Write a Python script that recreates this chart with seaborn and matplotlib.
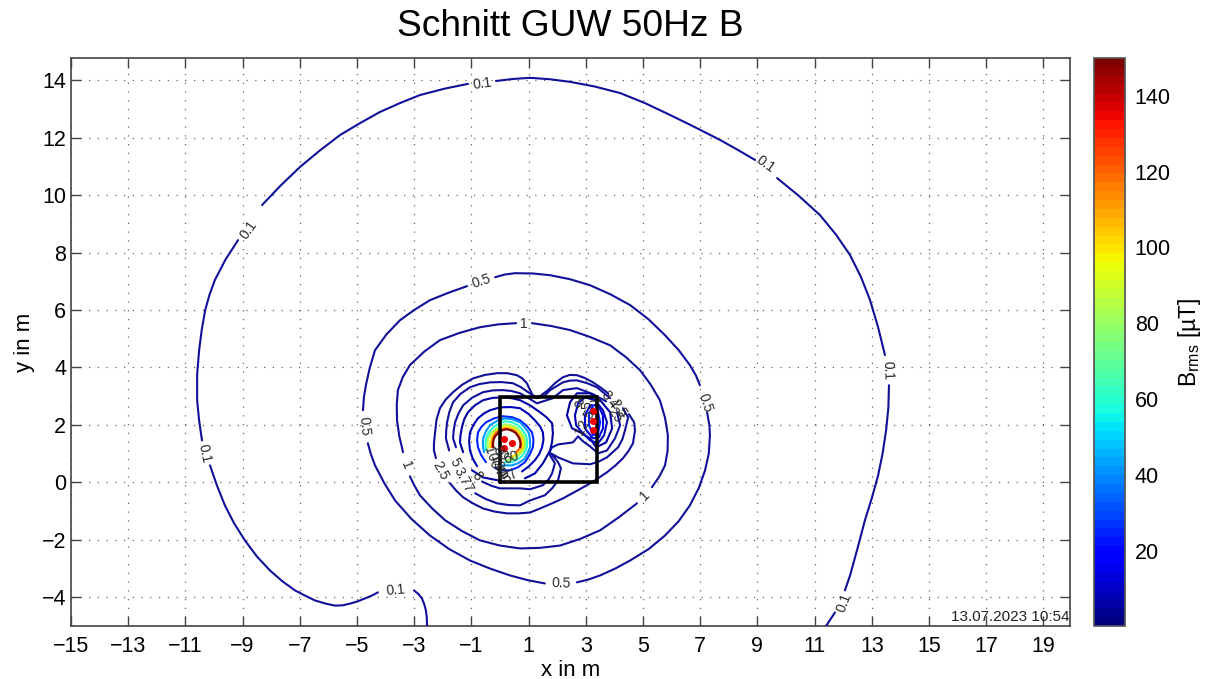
import matplotlib
matplotlib.use("Agg")
import matplotlib.pyplot as plt
from matplotlib.cm import ScalarMappable
from matplotlib.colors import Normalize
import pandas as pd
import seaborn as sns

# contour lines (x in m, y in m), one list per piece between labels
level_0_1 = [
    [(-2.55, -5.0), (-2.56, -4.7), (-2.59, -4.46), (-2.65, -4.24), (-2.73, -4.04), (-2.86, -3.88), (-3.01, -3.76)],
    [(-4.27, -3.83), (-4.50, -3.95), (-4.72, -4.04), (-5.0, -4.15), (-5.24, -4.22), (-5.5, -4.28), (-5.77, -4.29),
     (-6.1, -4.22), (-6.47, -4.11), (-6.8, -3.95), (-7.17, -3.76), (-7.6, -3.45), (-8.04, -3.07), (-8.5, -2.58),
     (-8.92, -2.02), (-9.3, -1.42), (-9.62, -0.80), (-9.9, -0.10), (-10.14, 0.59)],
    [(-10.42, 1.46), (-10.52, 2.15), (-10.59, 2.86), (-10.59, 3.75), (-10.52, 4.60), (-10.43, 5.30), (-10.31, 5.99),
     (-10.16, 6.52), (-9.97, 7.04), (-9.6, 7.75), (-9.16, 8.43)],
    [(-8.32, 9.65), (-7.67, 10.33), (-6.99, 10.98), (-6.3, 11.55), (-5.59, 12.09), (-4.9, 12.5), (-4.20, 12.89),
     (-3.5, 13.2), (-2.80, 13.48), (-1.95, 13.7), (-1.12, 13.87)],
    [(-0.14, 13.97), (0.45, 14.04), (1.05, 14.08), (1.75, 14.03), (2.45, 13.94), (3.3, 13.78), (4.20, 13.55),
     (5.07, 13.2), (5.94, 12.79), (6.8, 12.37), (7.69, 11.92), (8.3, 11.58), (8.92, 11.22)],
    [(9.69, 10.59), (10.45, 9.97), (11.19, 9.30), (11.75, 8.62), (12.24, 7.91), (12.62, 7.15), (12.94, 6.34),
     (13.22, 5.4), (13.46, 4.43)],
    [(13.60, 3.38), (13.58, 2.6), (13.50, 1.81), (13.38, 1.02), (13.22, 0.24), (13.0, -0.55), (12.76, -1.32),
     (12.5, -2.3), (12.24, -3.24), (12.06, -3.76)],
    [(11.71, -4.53), (11.40, -5.0)],
]
level_0_5 = [
    [(-0.17, 7.14), (0.15, 7.23), (0.52, 7.28), (1.15, 7.27), (1.75, 7.21), (2.45, 7.07), (3.15, 6.86), (3.85, 6.55),
     (4.55, 6.17), (5.2, 5.67), (5.77, 5.12), (6.25, 4.6), (6.64, 4.08), (6.85, 3.72), (6.99, 3.38)],
    [(7.24, 2.44), (7.32, 2.0), (7.34, 1.64), (7.3, 1.0), (7.17, 0.42), (6.95, -0.2), (6.64, -0.80), (6.25, -1.35),
     (5.77, -1.85), (5.2, -2.32), (4.55, -2.72), (4.03, -3.0), (3.50, -3.24), (3.1, -3.38), (2.69, -3.48)],
    [(1.57, -3.52), (0.95, -3.4), (0.35, -3.24), (-0.35, -3.0), (-1.05, -2.72), (-1.78, -2.32), (-2.45, -1.85),
     (-3.1, -1.27), (-3.67, -0.63), (-4.05, -0.02), (-4.37, 0.59), (-4.52, 1.0), (-4.62, 1.36)],
    [(-4.79, 2.51), (-4.76, 2.95), (-4.69, 3.38), (-4.55, 4.0), (-4.37, 4.60), (-3.97, 5.15), (-3.50, 5.64),
     (-3.0, 6.0), (-2.45, 6.34), (-1.8, 6.6), (-1.15, 6.83)],
]
level_1 = [
    [(1.12, 5.54), (1.8, 5.44), (2.45, 5.30), (3.15, 5.06), (3.85, 4.77), (4.4, 4.36), (4.90, 3.90), (5.27, 3.4),
     (5.59, 2.86), (5.77, 2.25), (5.87, 1.64), (5.86, 1.1), (5.77, 0.59), (5.57, 0.2), (5.31, -0.17)],
    [(4.79, -0.73), (4.15, -1.22), (3.50, -1.67), (2.8, -1.97), (2.10, -2.20), (1.4, -2.28), (0.70, -2.30), (0, -2.2),
     (-0.70, -2.02), (-1.32, -1.7), (-1.92, -1.32), (-2.38, -0.9), (-2.80, -0.45), (-3.0, -0.1), (-3.15, 0.21)],
    [(-3.39, 1.05), (-3.52, 1.6), (-3.60, 2.16), (-3.61, 2.7), (-3.57, 3.21), (-3.4, 3.66), (-3.15, 4.08),
     (-2.65, 4.55), (-2.10, 4.95), (-1.42, 5.2), (-0.70, 5.40), (-0.05, 5.5), (0.56, 5.54)],
]
level_2_5 = [
    [(-1.75, -0.03), (-1.52, -0.3), (-1.29, -0.52), (-0.95, -0.73), (-0.59, -0.91), (-0.18, -1.02), (0.24, -1.08),
     (0.65, -1.08), (1.05, -1.05), (1.40, -0.91), (1.8, -0.74), (2.20, -0.56), (2.62, -0.33), (3.04, -0.10), (3.40, 0.12),
     (3.74, 0.35), (4.05, 0.6), (4.30, 0.84), (4.50, 1.1), (4.65, 1.36), (4.72, 1.81), (4.69, 2.09), (4.51, 2.37)],
    [(3.78, 3.10), (3.52, 3.3), (3.25, 3.48), (2.97, 3.63), (2.69, 3.73), (2.44, 3.74), (2.20, 3.66), (1.92, 3.45),
     (1.68, 3.21), (1.40, 3.00), (1.22, 2.98), (1.12, 3.07), (0.94, 3.45), (0.78, 3.62), (0.59, 3.73), (0.25, 3.8),
     (-0.10, 3.80), (-0.52, 3.74), (-0.94, 3.62), (-1.32, 3.40), (-1.64, 3.14), (-1.90, 2.88), (-2.10, 2.58),
     (-2.22, 2.18), (-2.27, 1.74), (-2.31, 1.35), (-2.31, 1.11), (-2.24, 0.84)],
]
level_3 = [
    [(-0.87, -0.38), (-0.5, -0.58), (-0.10, -0.73), (0.30, -0.79), (0.70, -0.80), (1.05, -0.63), (1.57, -0.45),
     (1.83, -0.2), (2.03, 0.07), (2.13, 0.49), (2.03, 0.70), (1.78, 1.01), (2.03, 0.87), (2.55, 0.66), (3.15, 0.63),
     (3.45, 0.72), (3.74, 0.87), (4.13, 1.22), (4.28, 1.5), (4.37, 1.81), (4.48, 2.26), (4.30, 2.58)],
    [(3.85, 2.93), (3.39, 3.31), (3.05, 3.45), (2.69, 3.55), (2.44, 3.54), (2.20, 3.48), (1.75, 3.21), (1.57, 3.03),
     (1.29, 2.93), (0.98, 3.14), (0.72, 3.32), (0.45, 3.45), (0.05, 3.49), (-0.35, 3.48), (-0.72, 3.42), (-1.05, 3.31),
     (-1.38, 3.08), (-1.64, 2.79), (-1.77, 2.45), (-1.85, 2.09), (-1.88, 1.8), (-1.89, 1.53), (-1.78, 1.11)],
]
level_3_77 = [
    [(-0.63, 0.03), (-0.3, -0.12), (0.0, -0.21), (0.70, -0.21), (1.05, -0.24), (1.50, -0.10), (1.70, 0.1), (1.82, 0.31),
     (1.92, 0.66), (1.71, 1.01), (1.82, 1.22), (2.03, 1.32), (2.55, 1.39), (2.73, 1.60), (2.90, 1.43), (3.15, 1.25),
     (3.43, 1.01), (3.74, 1.11), (4.02, 1.53), (4.20, 1.99), (4.09, 2.44)],
    [(3.71, 2.82), (3.25, 3.07), (2.69, 3.28), (2.20, 3.21), (1.85, 2.93), (1.29, 2.75), (1.0, 2.93), (0.70, 3.10),
     (0.40, 3.18), (0.10, 3.21), (-0.25, 3.2), (-0.59, 3.14), (-0.97, 2.95), (-1.29, 2.68), (-1.45, 2.4), (-1.57, 2.09),
     (-1.62, 1.8), (-1.64, 1.53), (-1.54, 1.22)],
]
level_5 = [
    [(-0.98, 0.42), (-0.59, 0.17), (-0.07, 0.07)],
    [(0.87, 0.14), (1.22, 0.31), (1.50, 0.66), (1.75, 1.11), (1.82, 1.4), (1.85, 1.71), (1.82, 2.06), (1.62, 2.27),
     (1.40, 2.44), (1.05, 2.68), (0.70, 2.86), (0.40, 2.93), (0.10, 2.96), (-0.25, 2.94), (-0.59, 2.86), (-0.88, 2.68),
     (-1.12, 2.44), (-1.25, 2.2), (-1.33, 1.92), (-1.38, 1.65), (-1.40, 1.39), (-1.29, 1.05)],
    [(3.15, 1.53), (3.36, 1.22), (3.71, 1.39), (3.92, 1.88), (3.85, 2.44), (3.50, 2.86), (3.15, 3.10), (2.69, 3.10),
     (2.45, 2.79), (2.34, 2.33), (2.52, 1.88), (2.80, 1.74), (3.15, 1.53)],
]
level_8 = [
    [(0.0, 2.61), (0.38, 2.62), (0.70, 2.58), (1.0, 2.38), (1.22, 2.16), (1.40, 1.95), (1.50, 1.74), (1.52, 1.48),
     (1.47, 1.22), (1.37, 0.98), (1.22, 0.77), (1.0, 0.55), (0.77, 0.38)],
    [(-0.80, 0.56), (-0.95, 0.82), (-1.05, 1.11), (-1.08, 1.42), (-1.05, 1.74), (-0.93, 2.0), (-0.77, 2.23),
     (-0.56, 2.4), (-0.35, 2.51), (0.0, 2.61)],
    [(2.62, 2.33), (2.73, 2.75), (2.97, 2.96), (3.32, 2.86), (3.60, 2.51), (3.74, 2.09), (3.64, 1.64), (3.43, 1.36),
     (3.15, 1.46), (2.87, 1.74), (2.66, 1.99), (2.62, 2.33)],
]
level_12_5 = [
    [(3.15, 2.68), (3.43, 2.68), (3.60, 2.33), (3.60, 1.88), (3.46, 1.57), (3.25, 1.53), (2.97, 1.88), (2.97, 2.33), (3.15, 2.68)],
]
level_25 = [
    [(-0.49, 0.70), (-0.66, 0.95), (-0.77, 1.22), (-0.80, 1.48), (-0.77, 1.74), (-0.65, 1.93), (-0.49, 2.09),
     (-0.2, 2.23), (0.10, 2.30), (0.42, 2.27), (0.70, 2.16), (0.93, 1.97), (1.12, 1.74), (1.17, 1.48), (1.15, 1.22),
     (1.03, 0.95), (0.87, 0.70), (0.62, 0.52), (0.35, 0.42), (0.08, 0.42), (-0.17, 0.49)],
    [(3.22, 2.61), (3.43, 2.44), (3.50, 2.09), (3.43, 1.71), (3.25, 1.64), (3.11, 1.99), (3.11, 2.37), (3.22, 2.61)],
]
level_40 = [
    [(-0.56, 1.05), (-0.60, 1.3), (-0.59, 1.53), (-0.49, 1.78), (-0.35, 1.99), (-0.1, 2.14), (0.17, 2.23), (0.45, 2.19),
     (0.70, 2.09), (0.87, 1.91), (1.01, 1.71), (1.05, 1.46), (1.05, 1.22), (0.96, 1.0), (0.84, 0.80), (0.64, 0.67),
     (0.42, 0.59), (0.10, 0.59)],
    [(3.36, 2.44), (3.43, 2.09), (3.36, 1.78)],
]
level_60 = [
    [(-0.49, 1.11), (-0.51, 1.3), (-0.49, 1.53), (-0.40, 1.72), (-0.28, 1.88), (-0.06, 2.03), (0.17, 2.13), (0.41, 2.09),
     (0.63, 1.99), (0.79, 1.82), (0.91, 1.64), (0.95, 1.43), (0.94, 1.22), (0.87, 1.05), (0.77, 0.91), (0.60, 0.79),
     (0.42, 0.70), (0.17, 0.70)],
]
level_80 = [
    [(-0.42, 1.18), (-0.44, 1.35), (-0.42, 1.53), (-0.33, 1.68), (-0.21, 1.81), (-0.03, 1.93), (0.17, 2.02), (0.37, 1.99),
     (0.56, 1.92), (0.71, 1.77), (0.84, 1.60), (0.88, 1.41), (0.87, 1.22), (0.80, 1.09), (0.70, 0.98), (0.42, 0.80), (0.24, 0.77)],
]
level_100 = [
    [(-0.35, 1.22), (-0.35, 1.38), (-0.31, 1.53), (-0.24, 1.66), (-0.14, 1.78), (0.03, 1.88), (0.21, 1.95), (0.37, 1.91),
     (0.52, 1.85), (0.66, 1.72), (0.77, 1.57), (0.81, 1.39), (0.80, 1.22), (0.73, 1.1), (0.63, 1.01), (0.38, 0.87)],
]
level_120 = [
    [(-0.28, 1.22), (-0.27, 1.4), (-0.24, 1.57), (-0.17, 1.68), (-0.07, 1.78), (0.07, 1.85), (0.21, 1.88), (0.37, 1.84),
     (0.52, 1.78), (0.62, 1.66), (0.70, 1.53), (0.73, 1.37), (0.73, 1.22), (0.56, 1.05)],
]
level_148 = [
    [(-0.24, 1.22), (-0.24, 1.38), (-0.21, 1.53), (-0.13, 1.65), (-0.03, 1.74), (0.1, 1.82), (0.24, 1.85), (0.41, 1.8),
     (0.56, 1.71), (0.64, 1.59), (0.70, 1.46), (0.72, 1.33), (0.70, 1.22)],
]
contours = {0.1: level_0_1, 0.5: level_0_5, 1: level_1, 2.5: level_2_5, 3: level_3, 3.77: level_3_77, 5: level_5,
            8: level_8, 12.5: level_12_5, 25: level_25, 40: level_40, 60: level_60, 80: level_80,
            100: level_100, 120: level_120, 148: level_148}

# conductors
conductor_x = [0.14, 0.42, 0.14, 3.25, 3.25, 3.25]
conductor_y = [1.50, 1.36, 1.18, 2.47, 2.13, 1.81]

# cabinet outline
box_x = [0, 3.4, 3.4, 0, 0]
box_y = [0, 0, 2.96, 2.96, 0]

# contour labels: text, x, y, rotation
labels = [
    ("0.1", -3.64, -3.76, 5), ("0.1", -0.63, 13.87, 8), ("0.1", 9.30, 11.08, -35), ("0.1", 13.57, 3.90, -88),
    ("0.1", 12.03, -4.18, 70), ("0.1", -10.35, 1.01, -78), ("0.1", -8.78, 8.78, 55),
    ("0.5", -0.66, 7.0, 18), ("0.5", 7.17, 2.75, -72), ("0.5", 2.13, -3.52, -2), ("0.5", -4.76, 1.95, -85),
    ("1", 0.84, 5.5, 0), ("1", 5.07, -0.45, 45), ("1", -3.29, 0.59, -70),
    ("2.5", -2.10, 0.42, -62), ("2.5", 4.13, 2.58, -55),
    ("5", -1.57, 0.70, -60), ("3.77", -1.29, 0.07, -62), ("8", -0.80, 0.21, -55),
    ("57", 0.35, 0.21, 35), ("60", 0.38, 0.87, 20), ("100", -0.31, 0.87, -72), ("120", -0.10, 0.59, -72),
    ("80", 0.0, 1.0, -50), ("40", 0.0, 0.35, -60),
    ("3", 3.70, 3.03, -50), ("4", 3.92, 2.75, -50), ("25", 4.02, 2.33, -55),
    ("8", 2.69, 2.75, -50), ("5", 3.07, 2.68, 90), ("7", 3.22, 2.85, -70), ("12.5", 2.97, 2.09, 62),
]

x_ticks = list(range(-15, 20, 2))
y_ticks = list(range(-4, 15, 2))
bar_ticks = [20, 40, 60, 80, 100, 120, 140]

sns.set_theme(style="ticks")
plt.rcParams["font.family"] = ["Liberation Sans", "DejaVu Sans"]
plt.rcParams["mathtext.default"] = "regular"

fig = plt.figure(figsize=(12.11, 6.79), dpi=100)
ax = fig.add_axes([71 / 1211, 1 - 626 / 679, 999 / 1211, 568 / 679])
cax = fig.add_axes([1094 / 1211, 1 - 626 / 679, 31 / 1211, 568 / 679])

cmap = plt.get_cmap("jet", 64)
norm = Normalize(0.1, 150)

rows = []
seg = 0
for level, pieces in contours.items():
    for piece in pieces:
        seg += 1
        for px, py in piece:
            rows.append({"x": px, "y": py, "level": level, "seg": seg})
df = pd.DataFrame(rows)

palette = {level: cmap(norm(level)) for level in contours}
palette.update({0.1: "#10109a", 0.5: "#10109a", 1: "#10109a", 2.5: "#10109a", 3: "#10109a", 3.77: "#10109f"})
sns.lineplot(data=df, x="x", y="y", hue="level", units="seg", estimator=None, sort=False,
             palette=palette, legend=False, linewidth=1.5, ax=ax, zorder=3)

sns.scatterplot(x=conductor_x, y=conductor_y, color="#f00000", s=26, linewidth=0, ax=ax, zorder=5)
ax.plot(box_x, box_y, color="black", linewidth=2.6, solid_joinstyle="miter", zorder=4)

for text, tx, ty, rot in labels:
    ax.text(tx, ty, text, rotation=rot, ha="center", va="center", fontsize=10, color="#2a2a2a", zorder=6)

ax.set_xlim(-15, 19.93)
ax.set_ylim(-5, 14.77)
ax.set_xticks(x_ticks)
ax.set_yticks(y_ticks)
ax.set_xticklabels([str(t).replace("-", "\u2212") for t in x_ticks])
ax.set_yticklabels([str(t).replace("-", "\u2212") for t in y_ticks])
ax.tick_params(axis="x", pad=7)
ax.tick_params(axis="both", direction="in", length=7, width=1, color="#444444", labelsize=15.5,
               top=True, right=True, labelcolor="black")
ax.grid(True, color="#666666", linewidth=0.9, linestyle=(0, (1, 6)))
for side in ax.spines.values():
    side.set_color("#444444")
    side.set_linewidth(1.2)

ax.set_xlabel("x in m", fontsize=16, labelpad=2, color="black")
ax.set_ylabel("y in m", fontsize=16, labelpad=5, color="black")
fig.text(570 / 1211, 1 - 27 / 679, "Schnitt GUW 50Hz B", fontsize=26.7, ha="center", va="center", color="black")
ax.text(0.9995, 0.004, "13.07.2023 10:54", transform=ax.transAxes, ha="right", va="bottom",
        fontsize=11, color="#222222", zorder=7)

cbar = fig.colorbar(ScalarMappable(norm=norm, cmap=cmap), cax=cax)
cbar.set_ticks(bar_ticks)
cbar.ax.tick_params(axis="y", direction="in", length=5, width=1, color="#333333", left=True, right=True,
                    labelsize=15.5, pad=7, labelcolor="black")
cbar.outline.set_edgecolor("#555555")
cbar.set_label("B$_{rms}$ [µT]", fontsize=16.5, labelpad=4, color="black")

fig.savefig("out.png", dpi=100)
